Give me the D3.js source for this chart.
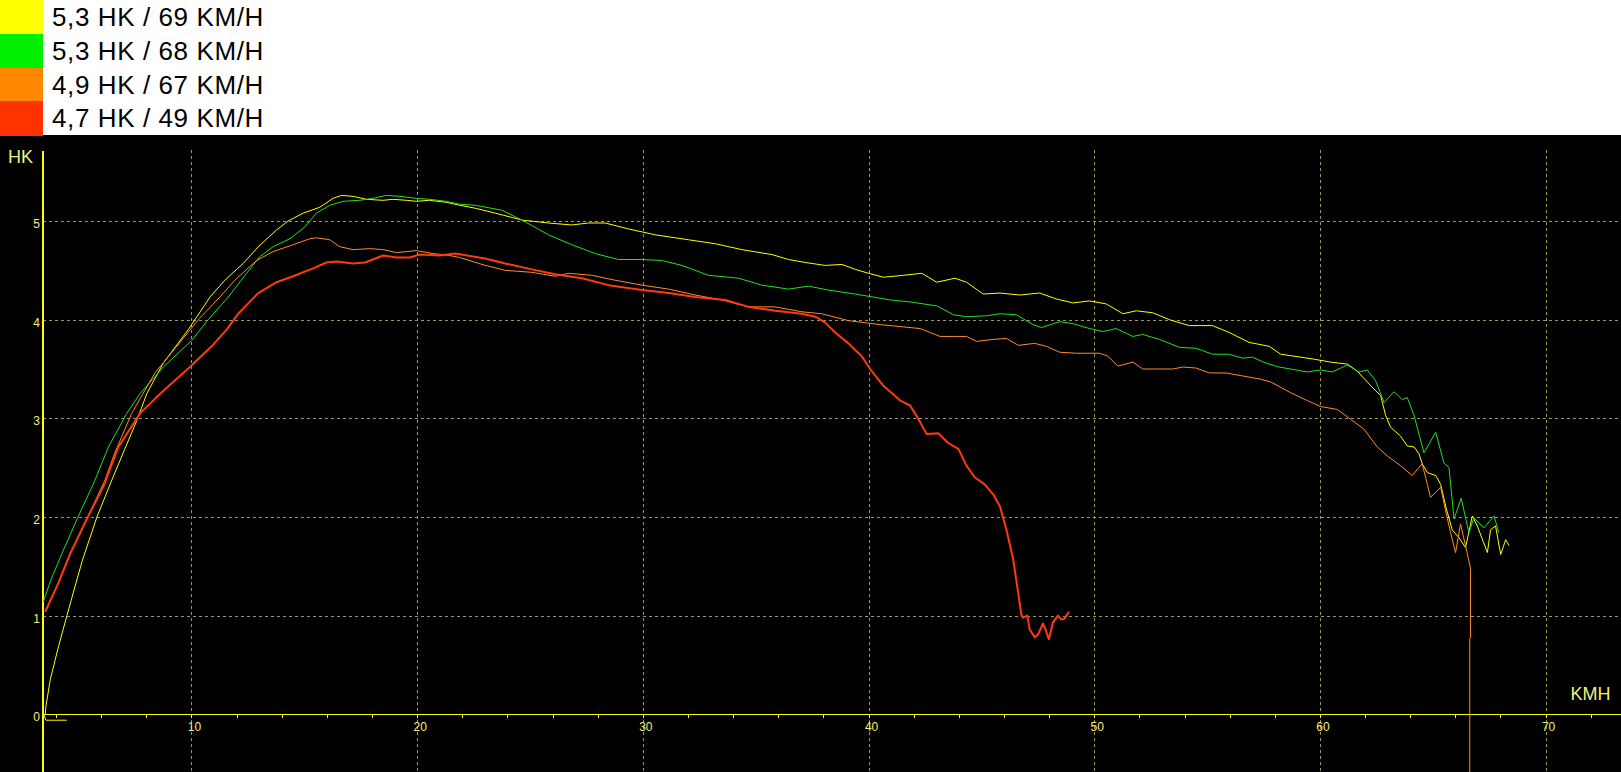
<!DOCTYPE html>
<html>
<head>
<meta charset="utf-8">
<script src="https://cdn.jsdelivr.net/npm/d3@7"></script>
<style>
  html, body { margin: 0; padding: 0; background: #000; overflow: hidden; }
  svg { display: block; }
  text { font-family: Arial, "Liberation Sans", sans-serif; }
</style>
</head>
<body>
<svg id="chart" width="1621" height="772"></svg>
<script>
// ---------- DATA ----------
const seriesNames = ["5,3 HK / 69 KM/H", "5,3 HK / 68 KM/H", "4,9 HK / 67 KM/H", "4,7 HK / 49 KM/H"];
const seriesColors = ["#ffff00", "#00ee00", "#ff8800", "#ff3300"];
const lineColors = ["#ffff00", "#22e022", "#ff8a2a", "#ff3a10"];
const lineWidths = [1, 1, 1, 2];

const yAxisTicks = [0, 1, 2, 3, 4, 5];
const xGridTicks = [10, 20, 30, 40, 50, 60, 70];
const xMinorTicks = [4, 6, 8, 12, 14, 16, 18, 22, 24, 26, 28, 32, 34, 36, 38, 42, 44, 46, 48, 52, 54, 56, 58, 62, 64, 66, 68, 72];
const yAxisTitle = "HK";
const xAxisTitle = "KMH";

// km/h, HK
const yellowData = [
  [4.48,-0.06],[3.55,-0.06],[3.47,-0.01],[3.52,0],[3.55,0.08],[3.74,0.35],[4.11,0.69],[4.48,1.0],[5.15,1.55],[5.81,2.0],
  [6.47,2.375],[7.58,2.98],[8.02,3.25],[8.75,3.56],[9.86,3.90],[10.82,4.23],[11.48,4.40],[12.29,4.57],[12.96,4.74],
  [13.77,4.91],[14.28,5.00],[14.95,5.08],[15.69,5.14],[16.27,5.23],[16.65,5.26],[17.16,5.25],[17.75,5.22],[18.49,5.21],
  [18.93,5.22],[19.52,5.21],[19.96,5.20],[20.55,5.21],[21.29,5.19],[21.88,5.16],[22.57,5.13],[23.46,5.08],[24.64,5.01],
  [25.82,4.98],[26.85,4.96],[27.59,4.98],[28.33,4.98],[29.36,4.92],[30.55,4.86],[32.02,4.81],[33.21,4.77],[34.39,4.71],
  [35.72,4.66],[36.45,4.61],[37.19,4.58],[38.08,4.55],[38.82,4.56],[39.41,4.51],[40.0,4.47],[40.66,4.43],[41.55,4.45],
  [42.36,4.47],[43.02,4.38],[43.83,4.42],[44.34,4.38],[45.08,4.26],[45.82,4.27],[46.70,4.25],[47.58,4.27],[48.32,4.21],
  [49.06,4.17],[49.79,4.19],[50.53,4.16],[51.27,4.06],[51.86,4.09],[52.59,4.07],[53.33,4.00],[54.21,3.94],[55.24,3.94],
  [55.98,3.87],[56.86,3.77],[57.75,3.73],[58.26,3.65],[58.85,3.63],[59.73,3.60],[60.47,3.57],[61.21,3.55],[61.65,3.48],
  [62.25,3.33],[62.69,3.23],[62.91,3.03],[63.13,2.91],[63.57,2.82],[63.87,2.72],[64.17,2.71],[64.39,2.64],[64.53,2.54],
  [64.76,2.45],[65.13,2.42],[65.35,2.33],[65.57,2.11],[65.86,1.87],[66.16,1.79],[66.45,1.69],[66.75,2.01],[66.97,1.91],
  [67.42,1.64],[67.56,1.87],[67.78,1.91],[68.01,1.62],[68.23,1.77],[68.38,1.71]
];
const greenData = [
  [3.43,1.14],[3.8,1.38],[4.26,1.63],[4.97,2.0],[5.7,2.36],[6.32,2.71],[7.13,3.05],[7.72,3.25],[8.75,3.52],[10.01,3.79],
  [10.74,4.0],[11.63,4.23],[12.44,4.47],[13.03,4.64],[13.62,4.74],[14.36,4.82],[15.02,4.94],[15.54,5.08],[16.13,5.16],
  [16.72,5.20],[17.46,5.21],[18.04,5.23],[18.64,5.26],[19.23,5.25],[19.96,5.23],[20.55,5.22],[21.29,5.20],[21.88,5.17],
  [22.57,5.16],[23.75,5.11],[24.64,5.01],[25.82,4.86],[26.85,4.76],[27.89,4.67],[28.92,4.61],[29.96,4.61],[30.84,4.60],
  [31.73,4.55],[32.91,4.45],[34.24,4.42],[35.27,4.35],[36.45,4.31],[37.34,4.34],[38.23,4.30],[39.41,4.26],[40.96,4.20],
  [41.84,4.18],[43.02,4.14],[43.76,4.05],[44.34,4.03],[45.23,4.04],[45.82,4.06],[46.55,4.05],[47.29,3.95],[47.66,3.92],
  [48.47,3.98],[49.06,3.96],[49.79,3.91],[50.38,3.88],[50.97,3.91],[51.71,3.83],[52.15,3.85],[52.89,3.80],[53.77,3.72],
  [54.51,3.71],[55.24,3.65],[55.98,3.65],[56.57,3.61],[57.01,3.62],[57.60,3.56],[58.19,3.52],[58.70,3.50],[59.44,3.47],
  [60.03,3.49],[60.55,3.47],[61.21,3.54],[61.73,3.47],[62.10,3.49],[62.47,3.38],[62.84,3.16],[63.28,3.27],[63.65,3.19],
  [63.87,3.21],[64.17,3.03],[64.61,2.65],[65.13,2.86],[65.49,2.55],[65.72,2.50],[65.94,1.98],[66.26,2.19],[66.60,1.84],
  [66.82,1.99],[67.27,1.89],[67.71,2.01],[67.93,1.84]
];
const orangeData = [
  [3.52,1.04],[4.1,1.33],[4.63,1.63],[5.36,1.98],[6.17,2.375],[6.6,2.65],[7.35,3.05],[8.38,3.46],[9.35,3.73],[10.30,4.0],
  [11.26,4.23],[11.92,4.40],[12.88,4.60],[13.62,4.69],[14.50,4.76],[15.24,4.82],[15.54,4.83],[16.13,4.81],[16.57,4.74],
  [17.16,4.71],[17.90,4.72],[18.49,4.71],[19.08,4.68],[19.96,4.70],[20.70,4.67],[21.44,4.65],[21.88,4.63],[22.87,4.56],
  [23.90,4.50],[25.08,4.48],[26.12,4.44],[26.71,4.47],[27.74,4.45],[28.77,4.40],[29.96,4.35],[31.14,4.31],[32.32,4.25],
  [33.50,4.20],[34.68,4.13],[35.86,4.13],[37.04,4.08],[37.93,4.06],[39.11,3.99],[40.52,3.95],[42.28,3.91],[43.17,3.83],
  [43.90,3.83],[44.34,3.83],[44.79,3.78],[45.52,3.80],[46.11,3.81],[46.63,3.74],[47.36,3.76],[47.88,3.73],[48.47,3.67],
  [49.20,3.66],[50.24,3.66],[50.60,3.63],[51.05,3.53],[51.71,3.57],[52.15,3.50],[52.89,3.50],[53.48,3.50],[53.92,3.52],
  [54.51,3.51],[55.10,3.46],[55.83,3.46],[56.57,3.43],[57.30,3.40],[57.81,3.37],[58.70,3.26],[59.44,3.18],[60.03,3.12],
  [60.77,3.09],[61.36,2.99],[61.95,2.89],[62.54,2.71],[62.98,2.62],[63.57,2.52],[64.09,2.42],[64.53,2.54],[64.76,2.33],
  [64.90,2.20],[65.35,2.30],[65.57,2.06],[65.79,1.84],[66.01,1.64],[66.23,1.93],[66.45,1.71],[66.67,1.48],[66.67,0.78],
  [66.64,0.77],[66.64,-1.0]
];
const redData = [
  [3.52,1.04],[4.1,1.33],[4.63,1.63],[5.36,1.98],[6.1,2.31],[6.76,2.71],[7.72,3.05],[8.61,3.25],[9.93,3.52],[10.89,3.73],
  [11.56,3.90],[12.07,4.06],[12.96,4.27],[13.77,4.38],[14.50,4.44],[15.39,4.52],[15.98,4.58],[16.42,4.59],[17.16,4.57],
  [17.68,4.58],[18.04,4.61],[18.49,4.65],[19.08,4.63],[19.67,4.63],[20.11,4.66],[20.99,4.65],[21.68,4.67],[23.01,4.62],
  [23.90,4.57],[25.08,4.51],[26.12,4.46],[27.30,4.42],[28.48,4.35],[29.96,4.30],[31.14,4.27],[32.32,4.23],[33.65,4.20],
  [34.68,4.13],[35.86,4.09],[37.04,4.06],[37.64,4.03],[38.08,3.97],[38.52,3.87],[39.11,3.76],[39.70,3.63],[40.07,3.50],
  [40.66,3.33],[41.40,3.18],[41.84,3.13],[42.14,3.02],[42.58,2.84],[43.09,2.85],[43.53,2.75],[43.98,2.69],[44.34,2.52],
  [44.71,2.40],[45.15,2.33],[45.52,2.23],[45.82,2.11],[46.11,1.87],[46.41,1.57],[46.63,1.23],[46.77,1.01],[46.85,0.98],
  [47.03,1.00],[47.14,0.86],[47.36,0.78],[47.51,0.81],[47.73,0.92],[47.84,0.86],[47.99,0.76],[48.17,0.93],[48.39,1.00],
  [48.54,0.96],[48.68,0.97],[48.88,1.04]
];
const seriesData = [yellowData, greenData, orangeData, redData];

// ---------- LAYOUT ----------
const W = 1621, H = 772;
const legendH = 135;
const rowH = legendH / 4;
const svg = d3.select("#chart");

const x = d3.scaleLinear().domain([3.398, 73.34]).range([42.5, 1621]);
const y = d3.scaleLinear().domain([-0.585, 5.72]).range([772, 150]);

// background
svg.append("rect").attr("x", 0).attr("y", 0).attr("width", W).attr("height", H).attr("fill", "#000");

// legend
const leg = svg.append("g");
leg.append("rect").attr("x", 0).attr("y", 0).attr("width", W).attr("height", legendH).attr("fill", "#fff");
seriesNames.forEach((name, i) => {
  leg.append("rect").attr("x", 0).attr("y", i * rowH).attr("width", 43).attr("height", rowH + 0.5)
    .attr("fill", seriesColors[i]).attr("shape-rendering", "crispEdges");
  leg.append("text").attr("x", 52).attr("y", 26 + i * rowH)
    .attr("font-size", 26).attr("letter-spacing", "0.6px").attr("fill", "#000").text(name);
});

const gridColor = "#9a9a58";
const textColor = "#f2f27a";

// gridlines
const grid = svg.append("g").attr("shape-rendering", "crispEdges");
grid.selectAll("line.v").data(xGridTicks).join("line").attr("class", "v")
  .attr("x1", d => Math.round(x(d)) + 0.5).attr("x2", d => Math.round(x(d)) + 0.5)
  .attr("y1", 149.5).attr("y2", H)
  .attr("stroke", gridColor).attr("stroke-width", 1).attr("stroke-dasharray", "3,3");
grid.selectAll("line.h").data(yAxisTicks.filter(d => d > 0)).join("line").attr("class", "h")
  .attr("x1", x.range()[0]).attr("x2", W)
  .attr("y1", d => Math.round(y(d)) + 0.5).attr("y2", d => Math.round(y(d)) + 0.5)
  .attr("stroke", gridColor).attr("stroke-width", 1).attr("stroke-dasharray", "3,3");

// x axis
const xAxis = d3.axisBottom(x).tickValues(xMinorTicks.concat(xGridTicks)).tickSize(4).tickSizeOuter(0).tickPadding(4.4)
  .tickFormat(d => (d % 10 === 0 ? d : ""));
const gx = svg.append("g").attr("transform", `translate(0,${Math.round(y(0))})`).call(xAxis);
gx.select(".domain").attr("stroke", "#ffff00").attr("stroke-width", 1.5).attr("shape-rendering", "crispEdges");
gx.selectAll(".tick line").attr("stroke", "#ffff00").attr("shape-rendering", "crispEdges");
gx.selectAll(".tick text").attr("fill", textColor).attr("font-size", 12).attr("dx", 2.5)
  .style("font-family", "Arial, 'Liberation Sans', sans-serif");

// y axis
const yAxis = d3.axisLeft(y).tickValues(yAxisTicks).tickSize(0).tickSizeOuter(0).tickPadding(2.5).tickFormat(d3.format("d"));
const gy = svg.append("g").attr("transform", `translate(${x.range()[0]},0)`).call(yAxis);
gy.select(".domain").attr("stroke", "#ffff00").attr("stroke-width", 1.5).attr("shape-rendering", "crispEdges");
gy.selectAll(".tick text").attr("fill", textColor).attr("font-size", 12).attr("dy", "0.54em")
  .style("font-family", "Arial, 'Liberation Sans', sans-serif");

// axis titles
svg.append("text").attr("x", 8).attr("y", 163.3).attr("font-size", 18).attr("fill", textColor).text(yAxisTitle);
svg.append("text").attr("x", 1570.5).attr("y", 700).attr("font-size", 18).attr("fill", textColor).text(xAxisTitle);

// curves
const line = d3.line().x(d => x(d[0])).y(d => y(d[1]));
const curves = svg.append("g");
seriesData.forEach((data, i) => {
  curves.append("path").datum(data).attr("d", line)
    .attr("fill", "none").attr("stroke", lineColors[i]).attr("stroke-width", lineWidths[i])
    .attr("stroke-linejoin", "round");
});
</script>
</body>
</html>
